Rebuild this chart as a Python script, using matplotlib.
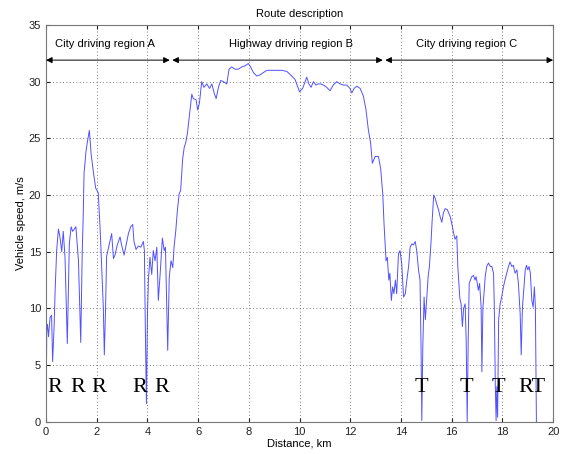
import matplotlib
matplotlib.use("Agg")
import matplotlib.pyplot as plt

# distance (km) and speed (m/s)
DIST_A = [0.0, 0.03, 0.06, 0.1, 0.16, 0.22, 0.26, 0.32, 0.36, 0.42, 0.49, 0.55, 0.62,
          0.68, 0.75, 0.84, 0.92, 0.99, 1.05, 1.12, 1.18, 1.28, 1.37, 1.43, 1.47, 1.5,
          1.58, 1.64, 1.71, 1.78, 1.87, 1.96, 2.06, 2.13, 2.17, 2.26, 2.3, 2.35, 2.39,
          2.46, 2.52, 2.59, 2.66, 2.72, 2.81, 2.92, 2.98, 3.08, 3.16, 3.25, 3.34, 3.42,
          3.47, 3.55, 3.64, 3.74, 3.84, 3.88, 3.92, 3.96, 4.0, 4.04, 4.1, 4.17, 4.23,
          4.3, 4.37, 4.43, 4.5, 4.59, 4.66, 4.71, 4.8, 4.86, 4.93, 5.0, 5.05, 5.12,
          5.18, 5.25, 5.31, 5.39, 5.45, 5.52, 5.58, 5.68]
SPEED_A = [0.0, 8.0, 8.6, 7.5, 9.2, 9.4, 5.3, 8.4, 11.6, 15.1, 17.0, 16.3, 15.0,
           16.8, 14.5, 6.9, 15.7, 17.2, 16.8, 17.0, 17.2, 14.2, 7.0, 15.1, 18.3, 21.9,
           23.9, 24.8, 25.7, 23.6, 22.0, 20.6, 20.2, 17.2, 15.1, 10.1, 5.9, 10.1, 14.6,
           15.3, 15.9, 16.6, 14.4, 14.7, 15.6, 16.3, 15.6, 14.7, 15.6, 16.6, 17.2, 17.4,
           15.9, 15.2, 15.5, 15.4, 15.9, 15.1, 7.8, 1.6, 9.4, 12.6, 14.5, 13.0, 15.1,
           14.2, 15.4, 10.7, 13.0, 16.2, 15.1, 15.4, 6.3, 12.7, 14.2, 13.6, 15.4, 16.9,
           18.6, 20.1, 20.4, 23.2, 24.2, 24.7, 25.5, 27.5]

DIST_B = [5.75, 5.81, 5.92, 5.98, 6.05, 6.14, 6.23, 6.34, 6.45, 6.54, 6.63, 6.71, 6.8,
          6.89, 7.0, 7.13, 7.22, 7.32, 7.46, 7.59, 7.72, 7.85, 7.98, 8.07, 8.18, 8.31,
          8.44, 8.57, 8.71, 8.9, 9.1, 9.3, 9.5, 9.69, 9.82, 9.95, 10.0, 10.12, 10.22,
          10.28, 10.37, 10.45, 10.55, 10.64, 10.74, 10.83, 10.94, 11.07, 11.2, 11.33,
          11.46, 11.6, 11.73, 11.86, 11.99, 12.06, 12.15, 12.26, 12.39, 12.52, 12.62,
          12.71, 12.8, 12.87, 12.98, 13.11, 13.2, 13.28, 13.33, 13.41, 13.46, 13.52,
          13.56, 13.62, 13.67, 13.72, 13.78, 13.83, 13.9]
SPEED_B = [28.9, 28.5, 28.4, 27.5, 28.1, 30.0, 29.5, 29.8, 29.4, 29.8, 29.0, 28.5, 29.5,
           30.1, 30.0, 29.8, 31.1, 31.3, 31.1, 31.1, 31.3, 31.4, 31.6, 31.3, 30.8, 30.5,
           30.6, 30.8, 31.0, 31.0, 31.0, 31.0, 30.9, 30.5, 30.2, 29.4, 29.1, 29.4, 30.0,
           30.4, 29.8, 29.5, 30.0, 29.7, 29.8, 29.8, 29.7, 29.5, 29.2, 29.7,
           30.0, 29.8, 29.7, 29.7, 29.4, 29.0, 29.4, 29.6, 29.4, 28.7, 27.5,
           25.8, 24.6, 22.8, 23.4, 23.4, 22.3, 20.1, 17.5, 14.2, 14.5, 12.5,
           13.1, 10.7, 11.9, 11.3, 12.5, 11.3, 14.8]

DIST_C = [13.96, 14.03, 14.1, 14.17, 14.23, 14.3, 14.36, 14.43, 14.49, 14.56, 14.62,
          14.69, 14.75, 14.79, 14.82, 14.86, 14.91, 14.96, 15.02, 15.07, 15.12, 15.18,
          15.23, 15.29, 15.35, 15.41, 15.48, 15.54, 15.61, 15.67, 15.74, 15.83, 15.94,
          16.0, 16.07, 16.13, 16.2, 16.24, 16.32, 16.37, 16.42, 16.47, 16.53, 16.57,
          16.61, 16.65, 16.69, 16.74, 16.79, 16.86, 16.92, 16.96, 17.01, 17.05, 17.1,
          17.16, 17.19, 17.23, 17.28, 17.32, 17.38, 17.45, 17.52, 17.58, 17.65, 17.68,
          17.72, 17.75, 17.78, 17.81, 17.85, 17.91, 17.97, 18.04, 18.1, 18.17, 18.24,
          18.3, 18.37, 18.43, 18.5, 18.57, 18.63, 18.7, 18.74, 18.79, 18.84, 18.9,
          18.95, 19.0, 19.05, 19.1, 19.16, 19.21, 19.26, 19.3, 19.34]
SPEED_C = [15.1, 13.9, 11.0, 11.3, 12.5, 13.7, 15.4, 15.7, 15.6, 15.9, 15.1,
           13.4, 12.5, 6.6, 0.1, 6.6, 11.0, 9.0, 11.0, 12.8, 13.7, 15.7,
           17.8, 20.0, 19.7, 19.2, 18.7, 18.1, 17.6, 18.4, 18.8, 18.7, 18.1,
           17.5, 16.7, 16.1, 16.4, 13.7, 10.9, 10.4, 8.4, 10.0, 10.4, 7.2,
           0.0, 7.2, 12.2, 12.5, 12.8, 12.9, 12.5, 12.8, 12.2, 11.6, 12.2,
           10.1, 4.4, 10.1, 11.5, 12.8, 13.7, 14.0, 13.7, 13.7, 13.1, 10.1,
           3.1, 0.1, 3.1, 0.4, 9.0, 10.4, 11.0, 11.9, 12.5, 13.1, 13.7,
           14.1, 13.7, 13.8, 13.1, 13.4, 12.2, 9.5, 5.9, 10.1, 11.6, 13.4,
           13.8, 13.4, 13.7, 13.1, 10.7, 10.1, 11.9, 10.1, 0.0]

REGIONS = ["City driving region A", "Highway driving region B", "City driving region C"]
REGION_SPANS = [(0.0, 4.88), (4.98, 13.28), (13.38, 20.0)]
REGION_TEXT_X = [0.35, 7.2, 14.6]

MARK_LABELS = ["R", "R", "R", "R", "R", "T", "T", "T", "RT"]
MARK_X = [0.36, 1.24, 2.1, 3.68, 4.56, 14.79, 16.56, 17.84, 19.16]


def main():
    plt.rcParams["font.family"] = ["Liberation Sans", "DejaVu Sans"]
    dist = DIST_A + DIST_B + DIST_C
    speed = SPEED_A + SPEED_B + SPEED_C

    fig = plt.figure(figsize=(5.61, 4.54), dpi=100)
    ax = fig.add_axes([0.082, 0.071, 0.904, 0.874])
    ax.plot(dist, speed, color="#3333ff", lw=0.7, alpha=0.85)

    ax.set_xlim(0, 20)
    ax.set_ylim(0, 35)
    ax.set_xticks(range(0, 21, 2))
    ax.set_yticks(range(0, 36, 5))
    ax.grid(True, linestyle=(0, (1, 3)), color="#555555", lw=0.6)
    ax.tick_params(direction="in", labelsize=8, length=3, top=True, right=True,
                   colors="#222222")
    for s in ax.spines.values():
        s.set_color("#777777")
        s.set_linewidth(0.8)

    ax.set_xlabel("Distance, km", fontsize=8, labelpad=1)
    ax.set_ylabel("Vehicle speed, m/s", fontsize=8, labelpad=2)
    ax.set_title("Route description", fontsize=8, pad=6)

    for name, (a, b), tx in zip(REGIONS, REGION_SPANS, REGION_TEXT_X):
        ax.annotate("", xy=(a, 31.9), xytext=(b, 31.9),
                    arrowprops=dict(arrowstyle="<|-|>", color="black", lw=0.7,
                                    mutation_scale=9, shrinkA=0, shrinkB=0))
        ax.text(tx, 33.3, name, fontsize=8, va="center", ha="left")

    for lab, x in zip(MARK_LABELS, MARK_X):
        ax.text(x, 3.0, lab, fontsize=16, ha="center", va="center",
                family=["Liberation Serif", "DejaVu Serif"])

    fig.savefig("out.png", dpi=100)


if __name__ == "__main__":
    main()
